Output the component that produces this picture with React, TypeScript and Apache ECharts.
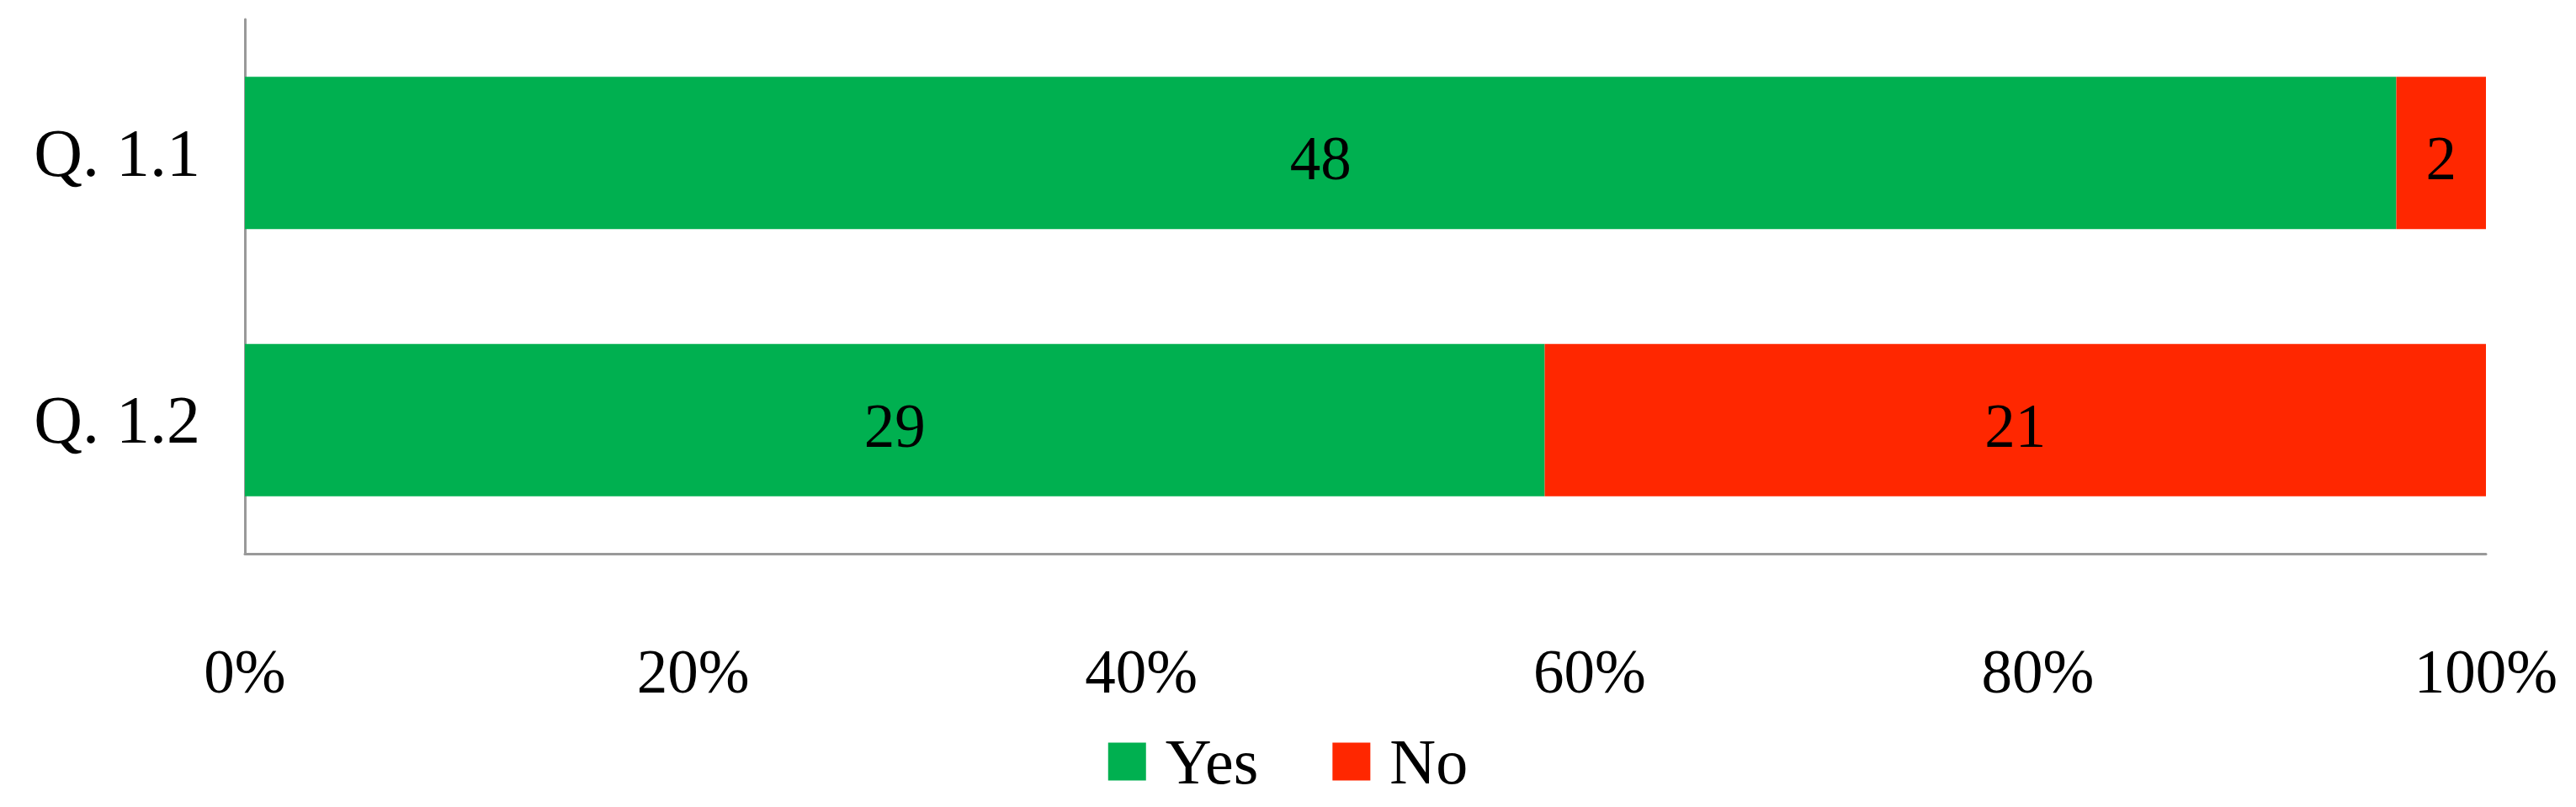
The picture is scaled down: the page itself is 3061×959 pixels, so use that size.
import React, { useEffect, useRef } from "react";
import * as echarts from "echarts";

const categories = ["Q. 1.1", "Q. 1.2"];
const yesCounts = [48, 29];
const noCounts = [2, 21];
const seriesNames = ["Yes", "No"];
const xTickLabels = ["0%", "20%", "40%", "60%", "80%", "100%"];

const FONT = "'Palatino Linotype', 'Book Antiqua', Palatino, 'Liberation Serif', serif";
const FS = 73;

export default function App() {
  const ref = useRef<HTMLDivElement>(null);
  useEffect(() => {
    if (!ref.current) return;
    const chart = echarts.init(ref.current, undefined, { renderer: "svg" });
    const totals = categories.map((_, i) => yesCounts[i] + noCounts[i]);
    const toPct = (arr: number[]) =>
      arr.map((v, i) => ({ value: (v / totals[i]) * 100, count: v }));
    const labelCfg = {
      show: true,
      position: "inside",
      offset: [0, 7],
      color: "#000",
      fontFamily: FONT,
      fontSize: FS,
      formatter: (p: any) => String(p.data.count),
    };
    chart.setOption({
      animation: false,
      backgroundColor: "#fff",
      grid: { left: 291, right: 107, top: 23, bottom: 301, containLabel: false },
      legend: {
        data: seriesNames,
        left: "center",
        top: 862,
        itemWidth: 45,
        itemHeight: 45,
        itemGap: 88,
        icon: "rect",
        textStyle: { fontFamily: FONT, fontSize: 76, color: "#000", padding: [0, 0, 0, 18] },
      },
      xAxis: {
        type: "value",
        min: 0,
        max: 100,
        interval: 20,
        axisLine: { show: true, lineStyle: { color: "#999", width: 3 } },
        axisTick: { show: false },
        splitLine: { show: false },
        axisLabel: {
          margin: 104,
          fontFamily: FONT,
          fontSize: FS,
          color: "#000",
          formatter: (v: number) => xTickLabels[Math.round(v / 20)],
        },
      },
      yAxis: {
        type: "category",
        data: categories,
        inverse: true,
        axisLine: { show: true, lineStyle: { color: "#999", width: 3 } },
        axisTick: { show: false },
        axisLabel: {
          margin: 53,
          fontFamily: FONT,
          fontSize: 80,
          color: "#000",
          padding: [16, 0, 0, 0],
        },
      },
      series: [
        {
          name: seriesNames[0],
          type: "bar",
          stack: "total",
          barCategoryGap: "43%",
          itemStyle: { color: "#00B050" },
          label: labelCfg,
          data: toPct(yesCounts),
        },
        {
          name: seriesNames[1],
          type: "bar",
          stack: "total",
          barCategoryGap: "43%",
          itemStyle: { color: "#FF2700" },
          label: labelCfg,
          data: toPct(noCounts),
        },
      ],
    });
    return () => chart.dispose();
  }, []);
  return (
    <div
      ref={ref}
      style={{ position: "absolute", left: 0, top: 0, width: 3061, height: 959 }}
    />
  );
}
